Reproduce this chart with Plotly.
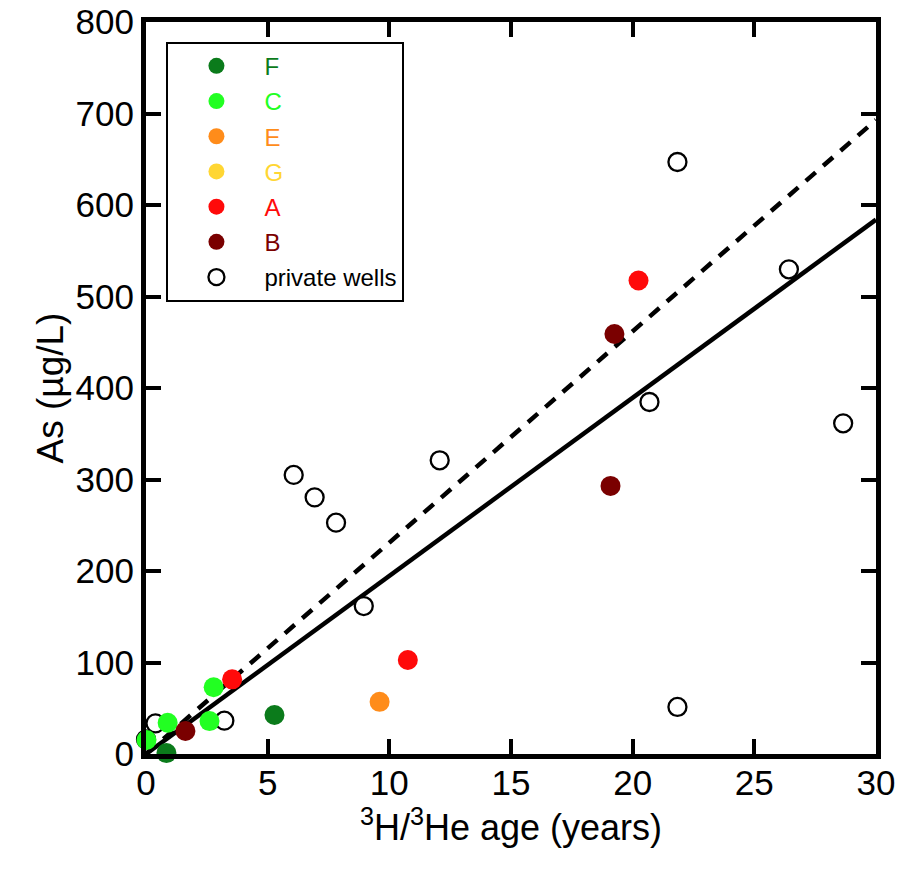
import plotly.graph_objects as go

# ---- data ----
F_x = [5.28, 0.84]
F_y = [42.6, 1]
C_x = [0.02, 0.89, 2.78, 2.61]
C_y = [15.3, 34.2, 72.9, 36]
E_x = [9.6]
E_y = [57]
G_x = []
G_y = []
A_x = [3.54, 10.76, 20.24]
A_y = [81.6, 102.7, 517.5]
B_x = [1.62, 19.25, 19.09]
B_y = [25.1, 459, 293]
PW_x = [0.0, 0.39, 3.22, 6.07, 6.93, 7.81, 8.95, 12.07, 20.69, 21.84, 21.84, 26.42, 28.65]
PW_y = [16, 33.5, 36.4, 305, 280.5, 252.8, 161.7, 321, 384.7, 51.4, 647, 529.7, 361.4]

fit_x = [0, 30]
solid_y = [0, 584]
dashed_y = [0, 693]

series = [
    ("F", F_x, F_y, "#0b7b1b", 1),
    ("C", C_x, C_y, "#22ff22", 2),
    ("E", E_x, E_y, "#ff8c1a", 3),
    ("G", G_x, G_y, "#ffd633", 4),
    ("A", A_x, A_y, "#ff0a0a", 5),
    ("B", B_x, B_y, "#7a0000", 6),
]

FONT = "Liberation Sans, Arial, sans-serif"

fig = go.Figure()
fig.add_trace(go.Scatter(x=fit_x, y=solid_y, mode="lines",
                         line=dict(color="black", width=4.5), showlegend=False, hoverinfo="skip"))
fig.add_trace(go.Scatter(x=fit_x, y=dashed_y, mode="lines",
                         line=dict(color="black", width=4.5, dash="13px,10px"), showlegend=False, hoverinfo="skip"))
fig.add_trace(go.Scatter(x=PW_x, y=PW_y, mode="markers", name="private wells",
                         legendrank=7, legendgroup="pw",
                         marker=dict(size=18, color="white", line=dict(color="black", width=2.3)),
                         cliponaxis=False))
for name, xs, ys, col, rank in series:
    fig.add_trace(go.Scatter(x=xs if xs else [None], y=ys if ys else [None], mode="markers",
                             name=f"<span style='color:{col}'>{name}</span>",
                             legendrank=rank, legendgroup=name,
                             marker=dict(size=20, color=col, line=dict(width=0)),
                             cliponaxis=False))

axis_common = dict(showline=True, linecolor="black", linewidth=5, mirror="ticks",
                   ticks="inside", ticklen=15, tickwidth=4, tickcolor="black",
                   showgrid=False, zeroline=False, automargin=False,
                   tickfont=dict(family=FONT, size=35, color="black"))

fig.update_layout(
    width=910, height=872,
    margin=dict(l=146, r=34, t=22, b=118),
    paper_bgcolor="white", plot_bgcolor="white",
    font=dict(family=FONT, color="black"),
    xaxis=dict(range=[0, 30], dtick=5, ticklabelstandoff=-6,
               title=dict(text="<sup>3</sup>H/<sup>3</sup>He age (years)",
                          font=dict(family=FONT, size=36), standoff=8),
               **axis_common),
    yaxis=dict(range=[0, 800], dtick=100,
               title=dict(text="As (µg/L)", font=dict(family=FONT, size=37), standoff=2),
               **axis_common),
    legend=dict(x=0.028, y=0.973, xanchor="left", yanchor="top",
                bgcolor="white", bordercolor="black", borderwidth=2,
                font=dict(family=FONT, size=24, color="black"),
                traceorder="grouped", tracegroupgap=1, itemsizing="trace",
                itemwidth=86),
)

fig.write_html("out.html")
